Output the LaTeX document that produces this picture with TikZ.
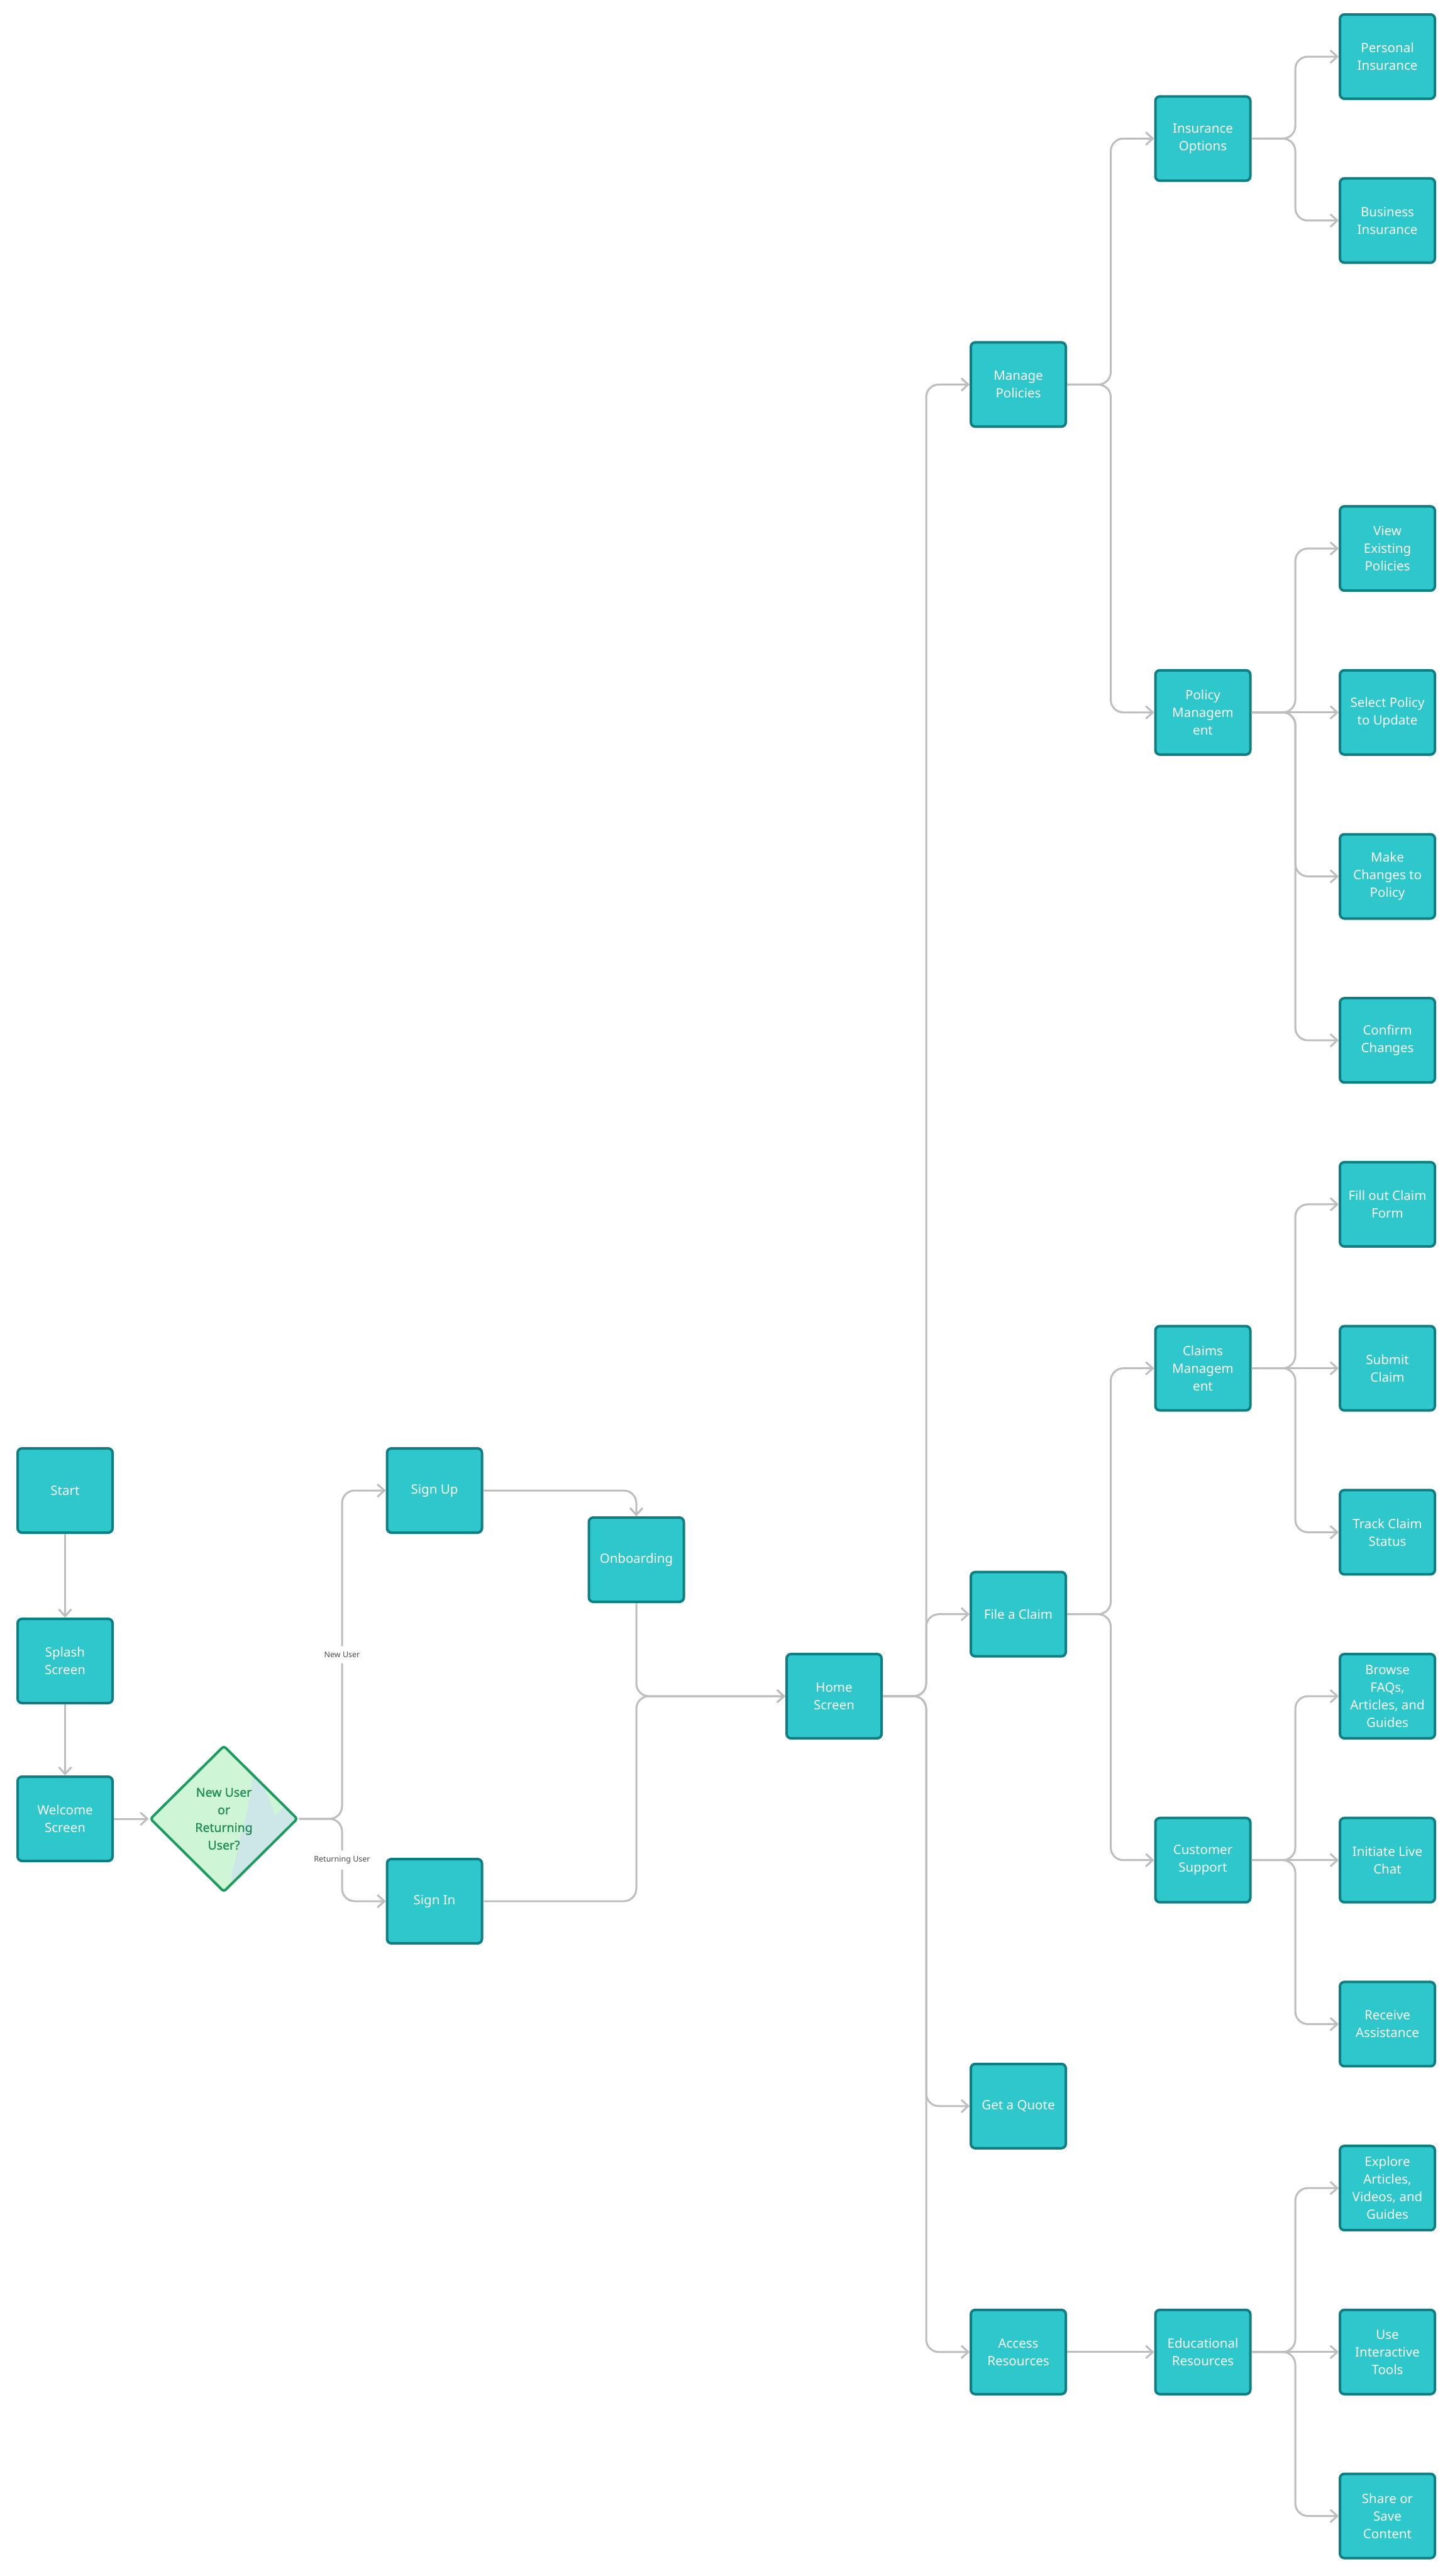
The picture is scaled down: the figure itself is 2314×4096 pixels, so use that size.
\documentclass[tikz,border=0pt]{standalone}
\usepackage{fontspec}
\setmainfont{Noto Sans}
\usetikzlibrary{arrows.meta,shapes.geometric,calc}
\definecolor{boxfill}{HTML}{2EC7CB}
\definecolor{boxline}{HTML}{0F7E82}
\definecolor{edgecol}{HTML}{BDBDBD}
\definecolor{dfill}{HTML}{CDF5D6}
\definecolor{dline}{HTML}{1B9B60}
\definecolor{dtext}{HTML}{1F8C58}
\definecolor{dshade}{HTML}{CDE7E8}
\definecolor{lblcol}{HTML}{4D4D4D}
\begin{document}
\begin{tikzpicture}[x=1pt,y=-1pt,
  box/.style={draw=boxline, fill=boxfill, line width=4pt, rounded corners=7pt,
    minimum width=151pt, minimum height=134pt, text=white, align=center,
    font=\fontsize{20.5}{28}\selectfont, inner sep=0pt},
  decision/.style={diamond, draw=dline, line width=4pt, rounded corners=4pt,
    minimum width=235pt, minimum height=233pt, inner sep=0pt, align=center,
    text=dtext, font=\fontsize{19.5}{28}\selectfont\addfontfeatures{FakeBold=1.2}},
  decisionbg/.style={diamond, fill=dfill, minimum width=235pt, minimum height=233pt, inner sep=0pt, rounded corners=4pt},
  flow/.style={draw=edgecol, line width=3pt, rounded corners=20pt,
    -{Straight Barb[length=11pt,width=20pt]}},
  edgelabel/.style={fill=white, text=lblcol, font=\fontsize{12.5}{15}\selectfont, inner xsep=3pt, inner ysep=9pt}
]
\useasboundingbox (0,0) rectangle (2314,4096);
\fill[white] (0,0) rectangle (2314,4096);

% branch x positions
\coordinate (bA) at (544,0);
\coordinate (bH) at (1473,0);
\coordinate (bM) at (1766.5,0);
\coordinate (bR) at (2060,0);

% left part
\node[box] (start) at (103.5,2370) {Start};
\node[box] (splash) at (103.5,2641) {Splash\\Screen};
\node[box] (welcome) at (103.5,2892) {Welcome\\Screen};
\node[decisionbg] (decbg) at (356,2892) {};
\fill[dshade] (403,2821) -- (417,2834) -- (438,2887) -- (453,2870) -- (473,2890) -- (367,2998)
  -- (370,2973) -- (377,2947) -- (383,2917) -- (390,2893) -- (395,2870) -- (400,2843) -- cycle;
\node[decision] (dec) at (356,2892) {New User\\or\\Returning\\User?};
\node[box] (signup) at (691,2370) {Sign Up};
\node[box] (signin) at (691,3023) {Sign In};
\node[box] (onb) at (1012,2480) {Onboarding};
\node[box] (home) at (1326.5,2697) {Home\\Screen};

% level 1
\node[box] (manage) at (1619.5,611.4) {Manage\\Policies};
\node[box] (claim) at (1619.5,2566.65) {File a Claim};
\node[box] (quote) at (1619.5,3348.75) {Get a Quote};
\node[box] (access) at (1619.5,3739.8) {Access\\Resources};

% level 2
\node[box] (insopt) at (1913,220.35) {Insurance\\Options};
\node[box] (polmgmt) at (1913,1132.8) {Policy\\Managem\\ent};
\node[box] (clmgmt) at (1913,2175.6) {Claims\\Managem\\ent};
\node[box] (support) at (1913,2957.7) {Customer\\Support};
\node[box] (edu) at (1913,3739.8) {Educational\\Resources};

% level 3
\node[box] (personal) at (2206.5,90) {Personal\\Insurance};
\node[box] (business) at (2206.5,350.7) {Business\\Insurance};
\node[box] (view) at (2206.5,872.1) {View\\Existing\\Policies};
\node[box] (select) at (2206.5,1132.8) {Select Policy\\to Update};
\node[box] (make) at (2206.5,1393.5) {Make\\Changes to\\Policy};
\node[box] (confirm) at (2206.5,1654.2) {Confirm\\Changes};
\node[box] (fill) at (2206.5,1914.9) {Fill out Claim\\Form};
\node[box] (submit) at (2206.5,2175.6) {Submit\\Claim};
\node[box] (track) at (2206.5,2436.3) {Track Claim\\Status};
\node[box] (browse) at (2206.5,2697) {Browse\\FAQs,\\Articles, and\\Guides};
\node[box] (chat) at (2206.5,2957.7) {Initiate Live\\Chat};
\node[box] (assist) at (2206.5,3218.4) {Receive\\Assistance};
\node[box] (explore) at (2206.5,3479.1) {Explore\\Articles,\\Videos, and\\Guides};
\node[box] (tools) at (2206.5,3739.8) {Use\\Interactive\\Tools};
\node[box] (share) at (2206.5,4000.5) {Share or\\Save\\Content};

% connectors: left part
\draw[flow] (start) -- (splash);
\draw[flow] (splash) -- (welcome);
\draw[flow] (welcome) -- (dec);
\draw[flow] (dec.east) -- (dec.east -| bA) -- node[edgelabel]{New User} (bA |- signup.west) -- (signup.west);
\draw[flow] (dec.east) -- (dec.east -| bA) -- node[edgelabel]{Returning User} (bA |- signin.west) -- (signin.west);
\draw[flow] (signup.east) -| (onb.north);
\draw[flow] (onb.south) |- (home.west);
\draw[flow] (signin.east) -- (signin.east -| onb.south) -- (onb.south |- home.west) -- (home.west);

% home branches
\foreach \t in {manage,claim,quote,access}
  \draw[flow] (home.east) -- (home.east -| bH) |- (\t.west);

% level 1 -> level 2
\foreach \t in {insopt,polmgmt}
  \draw[flow] (manage.east) -- (manage.east -| bM) |- (\t.west);
\foreach \t in {clmgmt,support}
  \draw[flow] (claim.east) -- (claim.east -| bM) |- (\t.west);
\draw[flow] (access) -- (edu);

% level 2 -> level 3
\foreach \t in {personal,business}
  \draw[flow] (insopt.east) -- (insopt.east -| bR) |- (\t.west);
\foreach \t in {view,make,confirm}
  \draw[flow] (polmgmt.east) -- (polmgmt.east -| bR) |- (\t.west);
\draw[flow] (polmgmt) -- (select);
\foreach \t in {fill,track}
  \draw[flow] (clmgmt.east) -- (clmgmt.east -| bR) |- (\t.west);
\draw[flow] (clmgmt) -- (submit);
\foreach \t in {browse,assist}
  \draw[flow] (support.east) -- (support.east -| bR) |- (\t.west);
\draw[flow] (support) -- (chat);
\foreach \t in {explore,share}
  \draw[flow] (edu.east) -- (edu.east -| bR) |- (\t.west);
\draw[flow] (edu) -- (tools);
\end{tikzpicture}
\end{document}
